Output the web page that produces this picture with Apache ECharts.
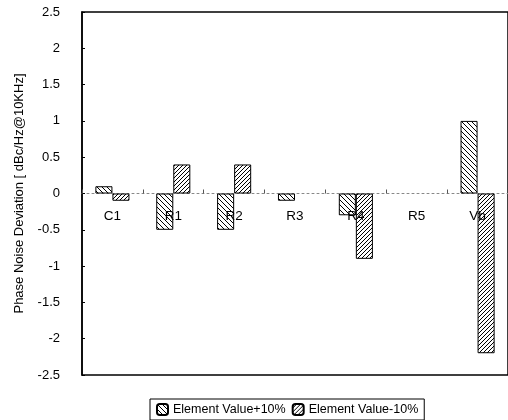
<!DOCTYPE html>
<html><head><meta charset="utf-8">
<script src="https://cdn.jsdelivr.net/npm/echarts@6/dist/echarts.min.js"></script>
<style>html,body{margin:0;padding:0;background:#fff}#c{width:508px;height:420px}</style>
</head><body><div id="c"></div>
<script>
const categories = ['C1','R1','R2','R3','R4','R5','Vb'];
const plus10 = [0.1, -0.5, -0.5, -0.1, -0.3, 0, 1.0];
const minus10 = [-0.1, 0.4, 0.4, 0, -0.9, 0, -2.2];
const seriesNames = ['Element Value+10%', 'Element Value-10%'];
const yTicks = { min: -2.5, max: 2.5, interval: 0.5 };

function hatch(size, forward) {
  const c = document.createElement('canvas');
  c.width = size; c.height = size;
  const g = c.getContext('2d');
  g.strokeStyle = '#000'; g.lineWidth = 1;
  for (const k of [-size, 0, size]) {
    g.beginPath();
    if (forward) { g.moveTo(k + size, 0); g.lineTo(k, size); }
    else { g.moveTo(k, 0); g.lineTo(k + size, size); }
    g.stroke();
  }
  return c;
}
const patPlus = { image: hatch(5, false), repeat: 'repeat' };
const patMinus = { image: hatch(4, true), repeat: 'repeat' };
const noZero = arr => arr.map(v => v === 0 ? '-' : v);

const gridTop = 12, gridBottom = 45, H = 420;
const gridH = H - gridTop - gridBottom;
const zeroOffset = -gridH * (0 - yTicks.min) / (yTicks.max - yTicks.min);

const chart = echarts.init(document.getElementById('c'));
const font = 'Liberation Sans, Arial, sans-serif';
chart.setOption({
  animation: false,
  textStyle: { fontFamily: font },
  grid: { left: 82, right: -3, top: gridTop, bottom: gridBottom, show: true, borderColor: '#000', borderWidth: 1.5, backgroundColor: 'transparent' },
  legend: {
    data: seriesNames, left: 150, bottom: 0,
    itemWidth: 11, itemHeight: 11, itemGap: 6,
    borderColor: '#000', borderWidth: 1, padding: [4, 6, 4, 6],
    textStyle: { fontSize: 12.5, color: '#000', fontFamily: font }
  },
  xAxis: [
    { type: 'category', data: categories, position: 'bottom', offset: zeroOffset,
      axisLine: { onZero: false, lineStyle: { color: '#888', type: [2, 3], width: 1 } },
      axisTick: { show: true, inside: true, length: 4, lineStyle: { color: '#555' } },
      axisLabel: { color: '#000', fontSize: 13.5, margin: 16, fontFamily: font } }
  ],
  yAxis: {
    type: 'value', min: yTicks.min, max: yTicks.max, interval: yTicks.interval,
    name: 'Phase Noise Deviation [ dBc/Hz@10KHz]', nameLocation: 'middle', nameGap: 56,
    nameTextStyle: { fontSize: 13, color: '#000', fontFamily: font },
    axisLine: { show: true, lineStyle: { color: '#000', width: 1.5 } },
    axisTick: { show: true, inside: true, length: 3, lineStyle: { color: '#000' } },
    axisLabel: { color: '#000', fontSize: 13, margin: 22, fontFamily: font },
    splitLine: { show: false }
  },
  series: [
    { name: seriesNames[0], type: 'bar', data: noZero(plus10), barWidth: '28%', barGap: '0%',
      itemStyle: { color: patPlus, borderColor: '#000', borderWidth: 1 } },
    { name: seriesNames[1], type: 'bar', data: noZero(minus10), barWidth: '28%',
      itemStyle: { color: patMinus, borderColor: '#000', borderWidth: 1 } }
  ]
});
</script></body></html>
